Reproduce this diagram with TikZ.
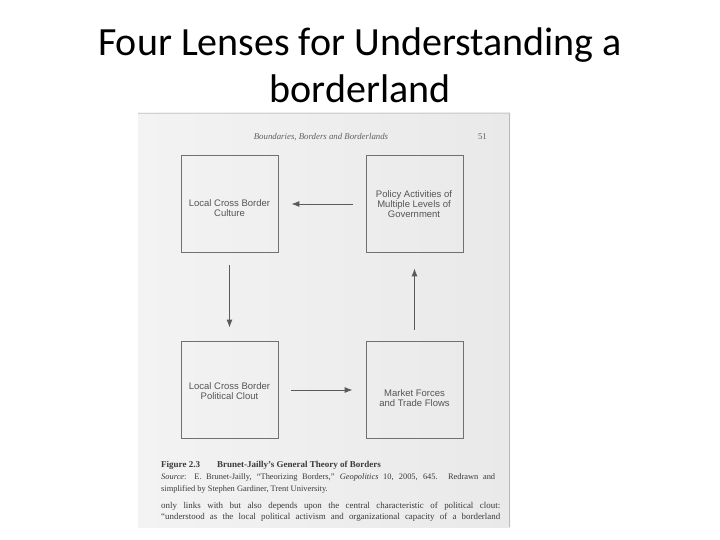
\documentclass[tikz,border=0pt]{standalone}
\usepackage{fontspec}
\setmainfont{Liberation Serif}
\newfontfamily\titlefont{Carlito}
\newfontfamily\boxfont{Liberation Sans}
\usetikzlibrary{arrows.meta}
\definecolor{pageleft}{HTML}{F3F3F3}
\definecolor{pageright}{HTML}{E9E9E9}
\definecolor{boxline}{HTML}{707070}
\definecolor{boxtext}{HTML}{555555}
\definecolor{arrowcol}{HTML}{5A5A5A}
\definecolor{scantext}{HTML}{3A3A3A}
\tikzset{
  lensbox/.style={draw=boxline, line width=0.8pt, minimum width=97pt, minimum height=97pt, inner sep=0pt},
  lenslabel/.style={align=center, inner sep=0pt, text=boxtext, font=\boxfont\fontsize{9.5}{10.2}\selectfont},
  flow/.style={draw=arrowcol, line width=0.9pt, -{Latex[length=8pt,width=6pt]}},
  scanline/.style={anchor=base west, inner sep=0pt, text=scantext},
  titleline/.style={anchor=base, inner sep=0pt, font=\titlefont\fontsize{40}{48}\selectfont},
}
\begin{document}
\begin{tikzpicture}[x=1pt,y=-1pt]
\useasboundingbox (0,0) rectangle (720,540);
\fill[white] (0,0) rectangle (720,540);
% title
\node[titleline] (title1) at (360,56) {Four Lenses for Understanding a};
\node[titleline] (title2) at (360,103) {borderland};
% scanned page
\shade[left color=pageleft, right color=pageright] (138,113) rectangle (510,527);
\draw[gray!35, line width=0.6pt] (138,113.5) -- (510,113.5);
\draw[gray!55, line width=0.8pt] (509,113) -- (509,527);
% running head
\node[anchor=base, inner sep=0pt, text=gray!75!black, font=\itshape\fontsize{8.8}{10}\selectfont] (header) at (321,140) {Boundaries, Borders and Borderlands};
\node[anchor=base east, inner sep=0pt, text=gray!75!black, font=\fontsize{8.8}{10}\selectfont] (pageno) at (487,140) {51};
% boxes
\node[lensbox] (culture) at (229.5,204) {};
\node[lensbox] (policy) at (414.5,204) {};
\node[lensbox] (clout) at (229.5,390) {};
\node[lensbox] (market) at (414.5,390) {};
\node[lenslabel] (culture-t) at (229.5,208.5) {Local Cross Border\\Culture};
\node[lenslabel] (policy-t) at (414,204) {Policy Activities of\\Multiple Levels of\\Government};
\node[lenslabel] (clout-t) at (229.5,391) {Local Cross Border\\Political Clout};
\node[lenslabel] (market-t) at (414.5,398) {Market Forces\\and Trade Flows};
% connectors
\draw[flow, shorten <=13pt, shorten >=13pt] (policy) -- (culture);
\draw[flow, shorten <=12.5pt, shorten >=13.5pt] (culture) -- (clout);
\draw[flow, shorten <=13pt, shorten >=13pt] (clout) -- (market);
\draw[flow, shorten <=11.5pt, shorten >=15.5pt] (market) -- (policy);
% caption
\node[scanline, font=\bfseries\fontsize{9}{11}\selectfont] (figlabel) at (161,467) {Figure 2.3};
\node[scanline, font=\bfseries\fontsize{9}{11}\selectfont] (figtitle) at (217,467) {Brunet-Jailly’s General Theory of Borders};
\node[scanline, font=\fontsize{8.4}{10}\selectfont] (source1) at (161,479.5) {\makebox[334pt][s]{\textit{Source}: E. Brunet-Jailly, “Theorizing Borders,” \textit{Geopolitics} 10, 2005, 645. Redrawn and}};
\node[scanline, font=\fontsize{8.4}{10}\selectfont] (source2) at (161,491) {simplified by Stephen Gardiner, Trent University.};
\node[scanline, font=\fontsize{8.9}{11}\selectfont] (body1) at (161,508) {\makebox[339pt][s]{only links with but also depends upon the central characteristic of political clout:}};
\node[scanline, font=\fontsize{8.9}{11}\selectfont] (body2) at (161,519) {\makebox[339pt][s]{“understood as the local political activism and organizational capacity of a borderland}};
\end{tikzpicture}
\end{document}
